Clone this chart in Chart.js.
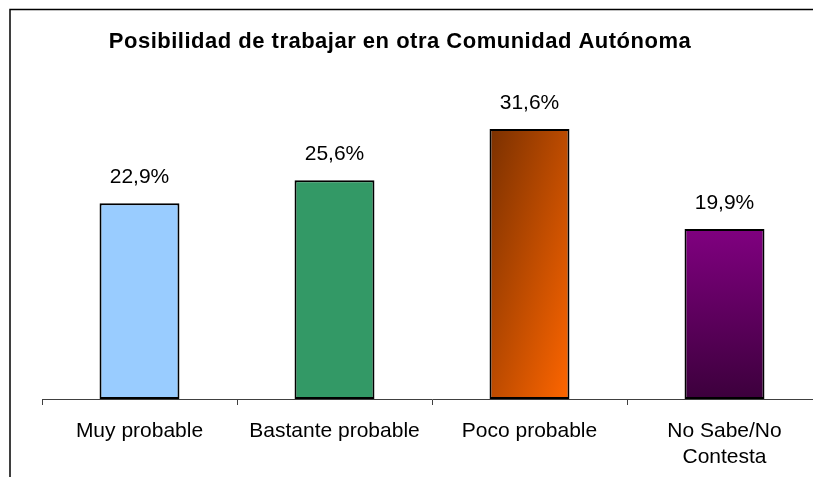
<!DOCTYPE html>
<html>
<head>
<meta charset="utf-8">
<script src="https://cdn.jsdelivr.net/npm/chart.js@4"></script>
<style>
  html, body { margin: 0; padding: 0; background: #fff; overflow: hidden; }
  #wrap { width: 813px; height: 477px; overflow: hidden; position: relative; }
  canvas { display: block; }
</style>
</head>
<body>
<div id="wrap">
  <canvas id="chart" width="830" height="477"></canvas>
</div>
<script>
// datos
const chartTitle = 'Posibilidad de trabajar en otra Comunidad Autónoma';
const categories = ['Muy probable', 'Bastante probable', 'Poco probable', ['No Sabe/No', 'Contesta']];
const values = [22.9, 25.6, 31.6, 19.9];

const FONT = '"Liberation Sans", Arial, sans-serif';

// relleno de cada barra (las dos últimas con degradado)
function barFill(ctx) {
  const chart = ctx.chart;
  const i = ctx.dataIndex;
  if (i === 0) return '#99ccff';
  if (i === 1) return '#339966';
  const xs = chart.scales.x, ys = chart.scales.y;
  if (!chart.chartArea || !xs || !ys) return i === 2 ? '#d05000' : '#600060';
  const half = xs.getPixelForValue(1) - xs.getPixelForValue(0);
  const w = half * 0.41;
  const left = xs.getPixelForValue(i) - w / 2;
  const top = ys.getPixelForValue(values[i]);
  const bottom = ys.getPixelForValue(0);
  const h = bottom - top;
  const c = chart.ctx;
  let g;
  if (i === 2) {
    // diagonal: esquina sup-izq oscura, inf-der naranja
    const t = (2 * w * h) / (w * w + h * h);
    g = c.createLinearGradient(left, top, left + t * h, top + t * w);
    g.addColorStop(0, '#7a3000');
    g.addColorStop(1, '#ff6600');
  } else {
    g = c.createLinearGradient(0, top, 0, bottom);
    g.addColorStop(0, '#800080');
    g.addColorStop(1, '#3c003c');
  }
  return g;
}

// etiquetas de valor encima de las barras
const valueLabels = {
  id: 'valueLabels',
  afterDatasetsDraw(chart) {
    const c = chart.ctx;
    const meta = chart.getDatasetMeta(0);
    c.save();
    c.font = '21px ' + FONT;
    c.fillStyle = '#000';
    c.textAlign = 'center';
    c.textBaseline = 'alphabetic';
    meta.data.forEach((bar, i) => {
      const txt = values[i].toFixed(1).replace('.', ',') + '%';
      c.fillText(txt, bar.x, bar.y - 20);
    });
    c.restore();
  }
};

// marco y titulo
const frameAndTitle = {
  id: 'frameAndTitle',
  afterDraw(chart) {
    const c = chart.ctx;
    c.save();
    c.strokeStyle = '#000';
    c.lineWidth = 1.5;
    c.beginPath();
    c.moveTo(10, 477);
    c.lineTo(10, 9.5);
    c.lineTo(830, 9.5);
    c.stroke();
    c.font = 'bold 22px ' + FONT;
    if ('letterSpacing' in c) c.letterSpacing = '0.5px';
    c.fillStyle = '#000';
    c.textAlign = 'center';
    c.textBaseline = 'alphabetic';
    c.fillText(chartTitle, 400, 48);
    c.restore();
  }
};

new Chart(document.getElementById('chart'), {
  type: 'bar',
  data: {
    labels: categories,
    datasets: [{
      data: values,
      backgroundColor: barFill,
      borderColor: '#000',
      borderWidth: 2,
      borderSkipped: false,
      barPercentage: 0.41,
      categoryPercentage: 1
    }]
  },
  options: {
    responsive: false,
    animation: false,
    devicePixelRatio: 1,
    layout: { padding: { left: 42, right: 8, top: 100, bottom: 0 } },
    plugins: {
      legend: { display: false },
      title: { display: false },
      tooltip: { enabled: false }
    },
    scales: {
      y: { display: false, min: 0, max: 35 },
      x: {
        afterFit(scale) { scale.height = 78; },
        grid: {
          offset: true,
          drawOnChartArea: false,
          drawTicks: true,
          tickLength: 6,
          color: '#404040',
          lineWidth: 1
        },
        border: { display: true, color: '#404040', width: 1 },
        ticks: {
          color: '#000',
          padding: 13,
          maxRotation: 0,
          autoSkip: false,
          font: { family: FONT, size: 21, lineHeight: 1.25 }
        }
      }
    }
  },
  plugins: [valueLabels, frameAndTitle]
});
</script>
</body>
</html>
